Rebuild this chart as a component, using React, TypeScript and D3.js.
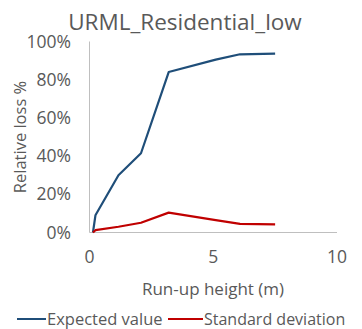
import React from "react";
import * as d3 from "d3";

const runupHeight = [0.14, 0.24, 1.17, 2.08, 3.2, 5.1, 6.08, 7.5];
const expectedValue = [0, 0.09, 0.3, 0.415, 0.84, 0.905, 0.933, 0.936];
const stdDeviation = [0, 0.012, 0.03, 0.051, 0.104, 0.065, 0.045, 0.043];
const xTicks = [0, 5, 10];
const yTicks = [0, 0.2, 0.4, 0.6, 0.8, 1.0];
const seriesNames = ["Expected value", "Standard deviation"];
const seriesColors = ["#1f4e79", "#c00000"];

const W = 362;
const H = 329;
const FONT = "'Open Sans', sans-serif";
const TEXT = "#595959";

export default function App() {
  const x = d3.scaleLinear().domain([0, 10]).range([89.5, 337]);
  const y = d3.scaleLinear().domain([0, 1]).range([232.5, 41.5]);
  const line = d3
    .line<number>()
    .x((_, i) => x(runupHeight[i]))
    .y((d) => y(d));
  const series = [expectedValue, stdDeviation];

  return (
    <svg
      width={W}
      height={H}
      style={{ position: "absolute", left: 0, top: 0, background: "#fff" }}
      fontFamily={FONT}
    >
      <text x={185} y={22} dy="0.35em" textAnchor="middle" fontSize={22.5} fill={TEXT}>
        URML_Residential_low
      </text>
      <line x1={x(0)} x2={x(0)} y1={y(1)} y2={y(0)} stroke="#bfbfbf" strokeWidth={1} />
      <line x1={x(0)} x2={x(10)} y1={y(0)} y2={y(0)} stroke="#bfbfbf" strokeWidth={1} />
      {yTicks.map((t) => (
        <text
          key={t}
          x={71}
          y={y(t)}
          dy="0.35em"
          textAnchor="end"
          fontSize={17.5}
          fill={TEXT}
        >
          {d3.format(".0%")(t)}
        </text>
      ))}
      {xTicks.map((t) => (
        <text
          key={t}
          x={x(t)}
          y={257}
          dy="0.35em"
          textAnchor="middle"
          fontSize={17.5}
          fill={TEXT}
        >
          {t}
        </text>
      ))}
      <text
        transform={`translate(20,137) rotate(-90)`}
        textAnchor="middle"
        dy="0.35em"
        fontSize={16.5}
        fill={TEXT}
      >
        Relative loss %
      </text>
      <text x={213} y={289} dy="0.35em" textAnchor="middle" fontSize={17} fill={TEXT}>
        Run-up height (m)
      </text>
      {series.map((s, i) => (
        <path
          key={i}
          d={line(s) || ""}
          fill="none"
          stroke={seriesColors[i]}
          strokeWidth={2.2}
          strokeLinejoin="round"
        />
      ))}
      <g>
        <line x1={17} x2={46} y1={319} y2={319} stroke={seriesColors[0]} strokeWidth={2} />
        <text x={47} y={319} dy="0.35em" fontSize={16.5} fill={TEXT}>
          {seriesNames[0]}
        </text>
        <line x1={168} x2={203} y1={319} y2={319} stroke={seriesColors[1]} strokeWidth={2} />
        <text x={204} y={319} dy="0.35em" fontSize={16} fill={TEXT}>
          {seriesNames[1]}
        </text>
      </g>
    </svg>
  );
}
